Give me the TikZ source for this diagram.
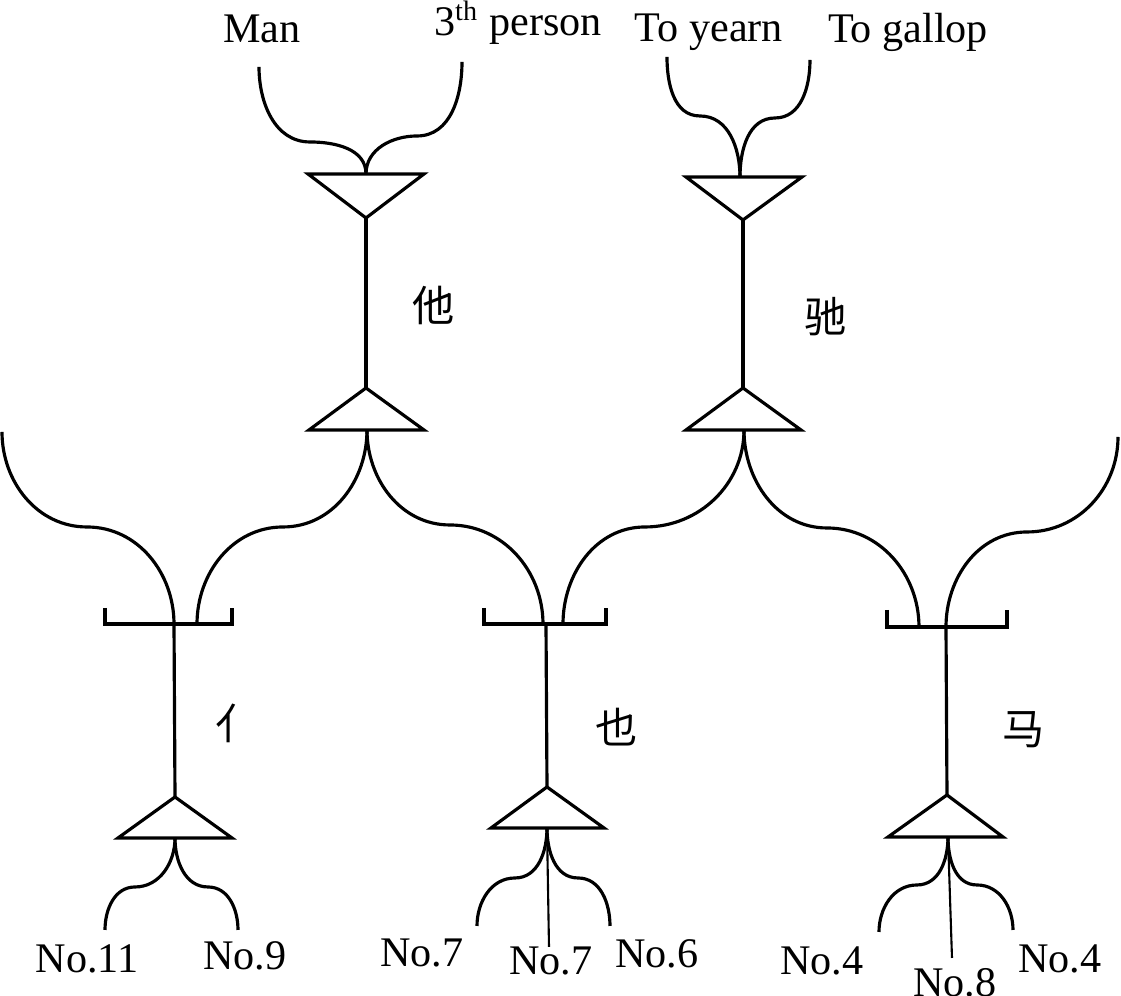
\documentclass[tikz,border=0pt]{standalone}
\usepackage{fontspec}
\setmainfont{Liberation Serif}
\newfontfamily\cjk{Noto Sans CJK SC}

\tikzset{
  stroke/.style={line width=0.9pt},
  thinstroke/.style={line width=0.6pt},
  word/.style={font=\fontsize{12}{14}\selectfont, inner sep=0pt, anchor=base},
  hanzi/.style={font=\cjk\fontsize{12}{14}\selectfont, inner sep=0pt},
}

\begin{document}
\begin{tikzpicture}[x=0.1mm, y=0.1mm]
	\useasboundingbox (0,0) rectangle (1121,996);

	% Punkter, øvre rad
	\coordinate (taTop) at (366,822);
	\coordinate (taTip) at (366,778);
	\coordinate (taApex) at (366,608);
	\coordinate (taBase) at (367,566);
	\coordinate (chiTop) at (740,819);
	\coordinate (chiTip) at (743,776);
	\coordinate (chiApex) at (743,608);
	\coordinate (chiBase) at (744,566);

	% Punkter, nedre rad
	\coordinate (renBar) at (174,372);
	\coordinate (renR) at (197,372);
	\coordinate (renApex) at (175,199);
	\coordinate (renBase) at (175,158);
	\coordinate (yeBar) at (546,372);
	\coordinate (yeL) at (543,372);
	\coordinate (yeR) at (563,372);
	\coordinate (yeApex) at (547,209);
	\coordinate (yeBase) at (547,168);
	\coordinate (maBar) at (946,369);
	\coordinate (maL) at (919,369);
	\coordinate (maApex) at (947,201);
	\coordinate (maBase) at (948,159);

	% Frie ender
	\coordinate (manEnd) at (259,929);
	\coordinate (thirdEnd) at (462,934);
	\coordinate (yearnEnd) at (667,939);
	\coordinate (gallopEnd) at (810,936);
	\coordinate (renFree) at (2,564);
	\coordinate (maFree) at (1118,559);
	\coordinate (no11End) at (105,66);
	\coordinate (no9End) at (238,66);
	\coordinate (no7aEnd) at (477,70);
	\coordinate (no7bEnd) at (549,49);
	\coordinate (no6End) at (610,70);
	\coordinate (no4aEnd) at (879,64);
	\coordinate (no8End) at (952,38);
	\coordinate (no4bEnd) at (1013,66);

	% Ord øverst
	\node[word] (man) at (262,953) {Man};
	\node[word] (third) at (518,960) {3\textsuperscript{th} person};
	\node[word] (yearn) at (709,954) {To yearn};
	\node[word] (gallop) at (908,953) {To gallop};

	% Tegn
	\node[hanzi] (ta) at (434,691) {他};
	\node[hanzi] (chi) at (826,679) {驰};
	\node[hanzi] (ren) at (237,273) {亻};
	\node[hanzi] (ye) at (617,269) {也};
	\node[hanzi] (ma) at (1024,266) {马};

	% Nummer nederst
	\node[word] (no11) at (87,23) {No.11};
	\node[word] (no9) at (245,26) {No.9};
	\node[word] (no7a) at (422,29) {No.7};
	\node[word] (no7b) at (551,21) {No.7};
	\node[word] (no6) at (657,28) {No.6};
	\node[word] (no4a) at (822,21) {No.4};
	\node[word] (no8) at (955,-1) {No.8};
	\node[word] (no4b) at (1060,23) {No.4};

	% Trekanter og stammer, øvre rad
	\draw[stroke] (taTop) +(-58,0) -- +(58,0) -- (taTip) -- cycle;
	\draw[stroke] (taTip) -- (taApex);
	\draw[stroke] (taApex) -- +(58,-42) -- +(-57,-42) -- cycle;
	\draw[stroke] (chiTop) +(-54,0) -- +(62,0) -- (chiTip) -- cycle;
	\draw[stroke] (chiTip) -- (chiApex);
	\draw[stroke] (chiApex) -- +(58,-42) -- +(-57,-42) -- cycle;

	% Klammer, trekanter og stammer, nedre rad
	\draw[stroke] (renBar) +(-69,16) -- +(-69,0) -- +(58,0) -- +(58,16);
	\draw[stroke] (renBar) -- (renApex);
	\draw[stroke] (renApex) -- +(57,-41) -- +(-57,-41) -- cycle;
	\draw[stroke] (yeBar) +(-62,16) -- +(-62,0) -- +(60,0) -- +(60,16);
	\draw[stroke] (yeBar) -- (yeApex);
	\draw[stroke] (yeApex) -- +(57,-41) -- +(-56,-41) -- cycle;
	\draw[stroke] (maBar) +(-59,17) -- +(-59,0) -- +(61,0) -- +(61,17);
	\draw[stroke] (maBar) -- (maApex);
	\draw[stroke] (maApex) -- +(56,-42) -- +(-59,-42) -- cycle;

	% Buer til ordene
	\draw[stroke] (taTop) to[out=90,in=0] (310,854) to[out=180,in=-90] (manEnd);
	\draw[stroke] (taTop) to[out=90,in=180] (417,860) to[out=0,in=-90] (thirdEnd);
	\draw[stroke] (chiTop) to[out=90,in=0] (700,880) to[out=180,in=-90] (yearnEnd);
	\draw[stroke] (chiTop) to[out=90,in=180] (775,878) to[out=0,in=-90] (gallopEnd);

	% Buer mellom radene
	\draw[stroke] (renBar) to[out=90,in=0] (87,469) to[out=180,in=-90] (renFree);
	\draw[stroke] (renR) to[out=90,in=180] (283,469) to[out=0,in=-90] (taBase);
	\draw[stroke] (taBase) to[out=-90,in=180] (450,471) to[out=0,in=90] (yeL);
	\draw[stroke] (yeR) to[out=90,in=180] (645,469) to[out=0,in=-90] (chiBase);
	\draw[stroke] (chiBase) to[out=-90,in=180] (827,468) to[out=0,in=90] (maL);
	\draw[stroke] (maBar) to[out=90,in=180] (1027,464) to[out=0,in=-90] (maFree);

	% Buer til numrene
	\draw[stroke] (renBase) to[out=-90,in=0] (135,109) to[out=180,in=90] (no11End);
	\draw[stroke] (renBase) to[out=-90,in=180] (208,109) to[out=0,in=90] (no9End);
	\draw[stroke] (yeBase) to[out=-90,in=0] (515,118) to[out=180,in=90] (no7aEnd);
	\draw[thinstroke] (yeBase) -- (no7bEnd);
	\draw[stroke] (yeBase) to[out=-90,in=180] (578,118) to[out=0,in=90] (no6End);
	\draw[stroke] (maBase) to[out=-90,in=0] (917,111) to[out=180,in=90] (no4aEnd);
	\draw[thinstroke] (maBase) -- (no8End);
	\draw[stroke] (maBase) to[out=-90,in=180] (977,111) to[out=0,in=90] (no4bEnd);
\end{tikzpicture}
\end{document}
